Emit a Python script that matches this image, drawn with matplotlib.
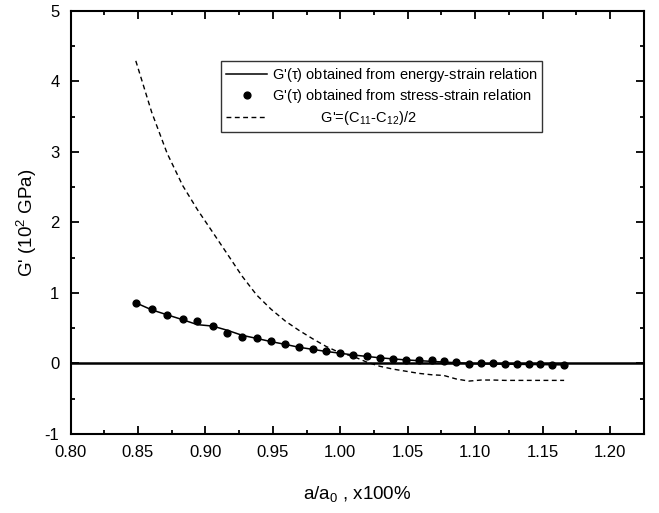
import numpy as np
import matplotlib
matplotlib.use('Agg')
import matplotlib.pyplot as plt
from matplotlib.ticker import MultipleLocator, FormatStrFormatter

plt.rcParams['font.family'] = ['Liberation Sans', 'DejaVu Sans']
plt.rcParams['mathtext.fontset'] = 'custom'
plt.rcParams['mathtext.rm'] = 'Liberation Sans'
plt.rcParams['mathtext.it'] = 'Liberation Sans'
plt.rcParams['axes.unicode_minus'] = False

# lattice ratio a/a0
x = [0.8484, 0.8602, 0.8716, 0.8832, 0.8941, 0.9054, 0.9163, 0.9271, 0.9380, 0.9486,
     0.9593, 0.9693, 0.9795, 0.9896, 1.0000, 1.0096, 1.0195, 1.0293, 1.0390, 1.0486,
     1.0580, 1.0676, 1.0767, 1.0859, 1.0953, 1.1044, 1.1133, 1.1222, 1.1313, 1.1397,
     1.1483, 1.1570, 1.1659]

# G'(tau) from energy-strain relation (solid line)
g_energy = [0.86, 0.76, 0.69, 0.62, 0.55, 0.53, 0.47, 0.40, 0.355, 0.31,
            0.27, 0.23, 0.20, 0.17, 0.145, 0.12, 0.10, 0.08, 0.065, 0.05,
            0.04, 0.03, 0.02, 0.01, 0.0, -0.005, -0.008, -0.01, -0.012, -0.014,
            -0.016, -0.018, -0.02]

# G'(tau) from stress-strain relation (dots)
g_stress = [0.86, 0.77, 0.69, 0.63, 0.60, 0.53, 0.43, 0.38, 0.36, 0.32,
            0.28, 0.23, 0.20, 0.175, 0.147, 0.118, 0.099, 0.079, 0.061, 0.047,
            0.043, 0.051, 0.037, 0.014, -0.006, 0.009, 0.004, -0.006, -0.01, -0.014,
            -0.014, -0.02, -0.024]

# G' = (C11 - C12)/2 (dashed)
g_elastic = [4.29, 3.56, 2.98, 2.52, 2.18, 1.86, 1.55, 1.24, 0.97, 0.77,
             0.60, 0.47, 0.35, 0.24, 0.15, 0.10, 0.02, -0.04, -0.08, -0.11,
             -0.14, -0.16, -0.17, -0.22, -0.25, -0.235, -0.235, -0.24, -0.24, -0.24,
             -0.24, -0.24, -0.24]

fig = plt.figure(figsize=(6.59, 5.13), dpi=100)
ax = fig.add_axes([0.107, 0.154, 0.870, 0.825])

ax.axhline(0, color='black', lw=1.8, zorder=1)
ax.plot(x, g_energy, color='black', lw=1.1, label=r"G'($\tau$) obtained from energy-strain relation")
ax.plot(x, g_stress, 'o', color='black', ms=4.9, label=r"G'($\tau$) obtained from stress-strain relation")
ax.plot(x, g_elastic, color='black', lw=1.0, linestyle=(0, (3.5, 2.5)),
        label="            G'=(C$_{11}$-C$_{12}$)/2")

ax.set_xlim(0.80, 1.225)
ax.set_ylim(-1, 5)
ax.xaxis.set_major_locator(MultipleLocator(0.05))
ax.xaxis.set_minor_locator(MultipleLocator(0.025))
ax.xaxis.set_major_formatter(FormatStrFormatter('%.2f'))
ax.yaxis.set_major_locator(MultipleLocator(1))
ax.yaxis.set_minor_locator(MultipleLocator(0.5))
ax.tick_params(which='both', direction='in', top=True, right=True, width=1.3, labelsize=12, pad=8)
ax.tick_params(which='major', length=6)
ax.tick_params(which='minor', length=3)
for s in ax.spines.values():
    s.set_linewidth(1.5)

ax.set_xlabel(r"a/a$_0$ , x100%", fontsize=13.5, labelpad=17)
ax.set_ylabel(r"G' (10$^2$ GPa)", fontsize=13.5, labelpad=4)

leg = ax.legend(loc='upper left', bbox_to_anchor=(0.263, 0.882), fontsize=10.5,
                frameon=True, fancybox=False, edgecolor='black', handlelength=2.8,
                handletextpad=0.3, labelspacing=0.25, borderpad=0.35, borderaxespad=0)
leg.get_frame().set_linewidth(1.0)

fig.savefig('out.png', dpi=100)
